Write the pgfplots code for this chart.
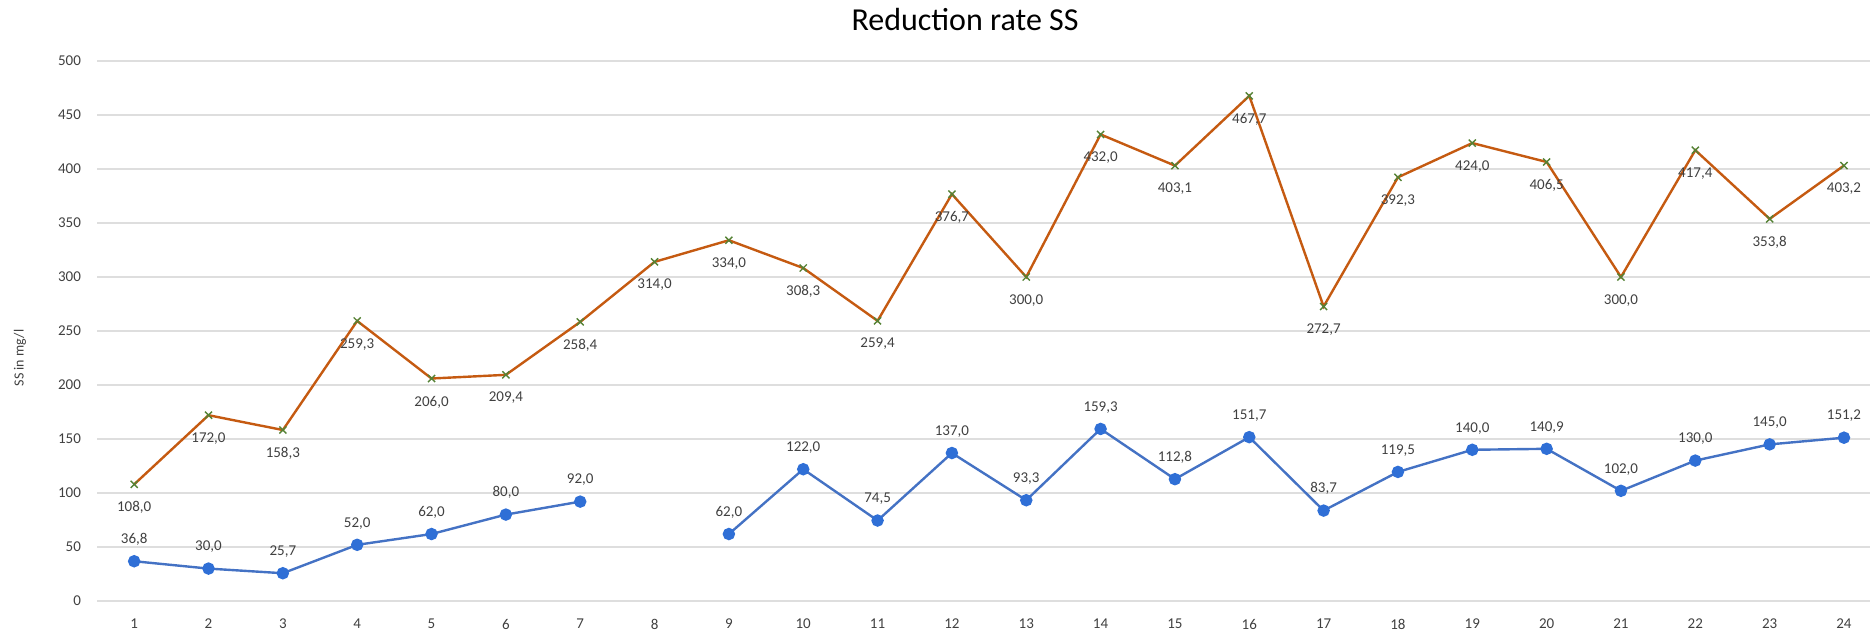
\documentclass[border=0pt]{standalone}
\usepackage{fontspec}
\setmainfont{Carlito}
\usepackage{pgfplots}
\pgfplotsset{compat=1.18}
\usepackage{pgfplotstable}
\definecolor{orangeline}{HTML}{C55A11}
\definecolor{greenmark}{HTML}{548235}
\definecolor{blueline}{HTML}{4472C4}
\definecolor{bluemark}{HTML}{2F6FD6}
\definecolor{gridgray}{HTML}{DEDEDE}
\definecolor{textgray}{HTML}{404040}

\pgfplotstableread{
x y lab
1 108.0 108,0
2 172.0 172,0
3 158.3 158,3
4 259.3 259,3
5 206.0 206,0
6 209.4 209,4
7 258.4 258,4
8 314.0 314,0
9 334.0 334,0
10 308.3 308,3
11 259.4 259,4
12 376.7 376,7
13 300.0 300,0
14 432.0 432,0
15 403.1 403,1
16 467.7 467,7
17 272.7 272,7
18 392.3 392,3
19 424.0 424,0
20 406.5 406,5
21 300.0 300,0
22 417.4 417,4
23 353.8 353,8
24 403.2 403,2
}\upperdata

\pgfplotstableread{
x y lab
1 36.8 36,8
2 30.0 30,0
3 25.7 25,7
4 52.0 52,0
5 62.0 62,0
6 80.0 80,0
7 92.0 92,0
8 nan {}
9 62.0 62,0
10 122.0 122,0
11 74.5 74,5
12 137.0 137,0
13 93.3 93,3
14 159.3 159,3
15 112.8 112,8
16 151.7 151,7
17 83.7 83,7
18 119.5 119,5
19 140.0 140,0
20 140.9 140,9
21 102.0 102,0
22 130.0 130,0
23 145.0 145,0
24 151.2 151,2
}\lowerdata

\begin{document}
\begin{tikzpicture}
\begin{axis}[
  scale only axis, width=886.5pt, height=270pt,
  xmin=0.5, xmax=24.35, ymin=0, ymax=500,
  xtick={1,...,24}, ytick={0,50,...,500},
  ymajorgrids, grid style={gridgray, line width=0.6pt},
  axis line style={draw=none}, major tick length=0,
  tick label style={font=\fontsize{7.5}{9}\selectfont, text=textgray},
  /pgf/number format/assume math mode=true,
  yticklabel style={xshift=-4.5pt},
  xticklabel style={yshift=-5.5pt},
  every axis title shift=0pt,
  title={Reduction rate SS},
  title style={at={(axis description cs:0.4896,1)}, anchor=base, yshift=15pt, font=\fontsize{16}{19}\selectfont, text=black},
  ylabel={SS in mg/l},
  ylabel style={at={(axis description cs:-0.0434,0.45)}, anchor=center, font=\fontsize{7}{8}\selectfont, text=textgray},
  clip=false, unbounded coords=jump,
  nodes near coords, point meta=explicit symbolic,
  every node near coord/.append style={font=\fontsize{7.5}{9}\selectfont, text=textgray},
]
\addplot[orangeline, line width=1.2pt, mark=x, mark size=2.5pt,
  mark options={greenmark, line width=0.7pt},
  every node near coord/.append style={anchor=north, yshift=-5pt}]
  table[x=x, y=y, meta=lab]{\upperdata};
\addplot[blueline, line width=1.2pt, mark=*, mark size=2.5pt,
  mark options={bluemark, draw=bluemark, fill=bluemark},
  every node near coord/.append style={anchor=south, yshift=4pt}]
  table[x=x, y=y, meta=lab]{\lowerdata};
\coordinate (sw) at (rel axis cs:0,0);
\coordinate (ne) at (rel axis cs:1,1);
\end{axis}
\pgfresetboundingbox
\path[use as bounding box] ([xshift=-48.5pt,yshift=-16.5pt]sw) rectangle ([yshift=30.5pt]ne);
\end{tikzpicture}
\end{document}
